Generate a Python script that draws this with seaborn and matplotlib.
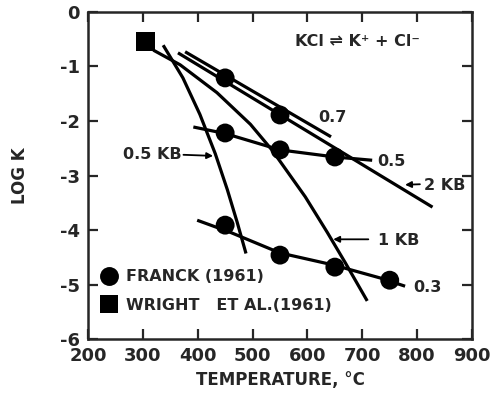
import matplotlib
matplotlib.use("Agg")
import matplotlib.pyplot as plt
import pandas as pd
import seaborn as sns

# Measured dissociation constants of KCl
franck_temp = [450, 550, 450, 550, 650, 450, 550, 650, 750]
franck_logk = [-1.21, -1.89, -2.22, -2.53, -2.66, -3.91, -4.46, -4.68, -4.92]
wright_temp = [305]
wright_logk = [-0.55]
franck_label = "FRANCK (1961)"
wright_label = "WRIGHT   ET AL.(1961)"

# Isochores (density labels 0.7, 0.5, 0.3)
d07_temp = [377, 643]
d07_logk = [-0.73, -2.29]
d05_temp = [392, 450, 550, 650, 718]
d05_logk = [-2.11, -2.23, -2.53, -2.66, -2.72]
d03_temp = [399, 459, 550, 647, 733, 778]
d03_logk = [-3.82, -4.04, -4.42, -4.64, -4.88, -5.03]

# Isobars (0.5, 1 and 2 kb)
p05_temp = [337, 373, 404, 432, 454, 472, 488]
p05_logk = [-0.61, -1.21, -1.88, -2.60, -3.26, -3.86, -4.43]
p1_temp = [319, 368, 435, 496, 536, 596, 636, 669, 709]
p1_logk = [-0.70, -0.97, -1.48, -2.06, -2.54, -3.39, -4.04, -4.60, -5.30]
p2_temp = [364, 828]
p2_logk = [-0.75, -3.58]

x_ticks = [200, 300, 400, 500, 600, 700, 800, 900]
y_ticks = [0, -1, -2, -3, -4, -5, -6]
y_tick_labels = ["0", "-1", "-2", "-3", "-4", "-5", "-6"]

curves = {
    "0.7": (d07_temp, d07_logk),
    "0.5": (d05_temp, d05_logk),
    "0.3": (d03_temp, d03_logk),
    "0.5 KB": (p05_temp, p05_logk),
    "1 KB": (p1_temp, p1_logk),
    "2 KB": (p2_temp, p2_logk),
}
lines = pd.concat(
    [pd.DataFrame({"curve": k, "T": t, "logK": v}) for k, (t, v) in curves.items()],
    ignore_index=True,
)
points = pd.concat(
    [
        pd.DataFrame({"source": franck_label, "T": franck_temp, "logK": franck_logk}),
        pd.DataFrame({"source": wright_label, "T": wright_temp, "logK": wright_logk}),
    ],
    ignore_index=True,
)

sns.set_style("ticks")
plt.rcParams["font.family"] = ["DejaVu Sans"]
plt.rcParams["font.weight"] = "bold"
plt.rcParams["axes.unicode_minus"] = False

fig = plt.figure(figsize=(4.9, 3.98), dpi=100)
ax = fig.add_axes([0.1796, 0.148, 0.7837, 0.822])

sns.lineplot(data=lines, x="T", y="logK", units="curve", estimator=None,
             sort=False, color="black", lw=2.3, ax=ax,
             solid_joinstyle="round", solid_capstyle="butt")
sns.scatterplot(data=points, x="T", y="logK", style="source",
                markers={franck_label: "o", wright_label: "s"},
                color="black", s=185, linewidth=0, ax=ax, zorder=3)

ax.set_xlim(200, 900)
ax.set_ylim(-6, 0)
ax.set_xticks(x_ticks)
ax.set_yticks(y_ticks, y_tick_labels)
ax.tick_params(direction="in", top=True, right=True, length=7, width=1.6,
               labelsize=13, pad=6)
for lab in ax.get_xticklabels() + ax.get_yticklabels():
    lab.set_fontweight("bold")
for sp in ax.spines.values():
    sp.set_linewidth(1.8)

ax.set_xlabel("TEMPERATURE, °C", fontsize=12, fontweight="bold", labelpad=4)
ax.set_ylabel("LOG K", fontsize=12, fontweight="bold", labelpad=22)

# curve labels
fs = 11.5
ax.text(620, -1.94, "0.7", fontsize=fs, fontweight="bold", va="center")
ax.text(727, -2.75, "0.5", fontsize=fs, fontweight="bold", va="center")
ax.text(793, -5.06, "0.3", fontsize=fs, fontweight="bold", va="center")
ax.text(578, -0.55, "KCl ⇌ K⁺ + Cl⁻", fontsize=fs, fontweight="bold", va="center")

arrow = dict(arrowstyle="-|>", color="black", lw=1.3, mutation_scale=9,
             shrinkA=0, shrinkB=0)
ax.annotate("", xy=(428, -2.64), xytext=(374, -2.62), arrowprops=arrow)
ax.text(370, -2.62, "0.5 KB", fontsize=fs, fontweight="bold", va="center", ha="right")
ax.annotate("", xy=(647, -4.17), xytext=(711, -4.17), arrowprops=arrow)
ax.text(729, -4.19, "1 KB", fontsize=fs, fontweight="bold", va="center")
ax.annotate("", xy=(778, -3.17), xytext=(805, -3.16), arrowprops=arrow)
ax.text(813, -3.19, "2 KB", fontsize=fs, fontweight="bold", va="center")

handles, labels = ax.get_legend_handles_labels()
leg = ax.legend(handles, labels, loc="upper left", bbox_to_anchor=(0.034, 0.213),
                frameon=False, borderaxespad=0, borderpad=0, handlelength=1.0,
                handletextpad=0.55, labelspacing=0.85, fontsize=fs)
for t in leg.get_texts():
    t.set_fontweight("bold")

fig.savefig("out.png", dpi=100)
